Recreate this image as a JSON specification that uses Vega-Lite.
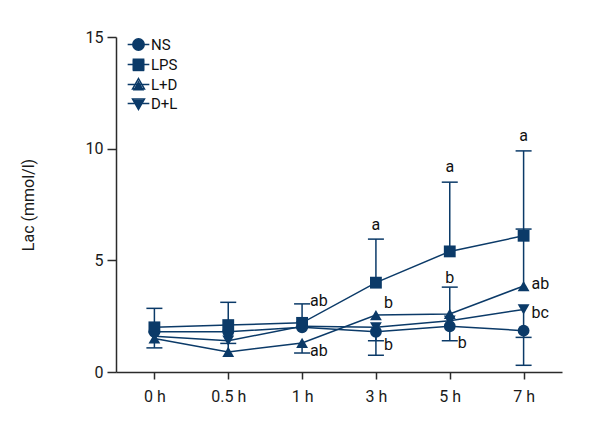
{
  "$schema": "https://vega.github.io/schema/vega-lite/v6.json",
  "width": 446,
  "height": 335,
  "autosize": {"type": "none"},
  "padding": {"left": 116, "top": 37, "right": 38, "bottom": 68},
  "background": "white",
  "config": {
    "view": {"stroke": null},
    "font": "Roboto",
    "axis": {
      "domainColor": "#2b2b2b",
      "tickColor": "#2b2b2b",
      "domainWidth": 1.5,
      "tickWidth": 1.5,
      "labelColor": "#1a1a1a",
      "titleColor": "#1a1a1a",
      "labelFontSize": 16,
      "titleFontSize": 16,
      "titleFontWeight": "normal",
      "grid": false,
      "labelFont": "Roboto",
      "titleFont": "Roboto"
    },
    "legend": {"labelFont": "Roboto"}
  },
  "datasets": {
    "means": [
      {"series": "NS", "time": "0 h", "value": 1.8},
      {"series": "NS", "time": "0.5 h", "value": 1.8},
      {"series": "NS", "time": "1 h", "value": 2.0},
      {"series": "NS", "time": "3 h", "value": 1.8},
      {"series": "NS", "time": "5 h", "value": 2.05},
      {"series": "NS", "time": "7 h", "value": 1.85},
      {"series": "LPS", "time": "0 h", "value": 2.0},
      {"series": "LPS", "time": "0.5 h", "value": 2.1},
      {"series": "LPS", "time": "1 h", "value": 2.2},
      {"series": "LPS", "time": "3 h", "value": 4.0},
      {"series": "LPS", "time": "5 h", "value": 5.4},
      {"series": "LPS", "time": "7 h", "value": 6.1},
      {"series": "L+D", "time": "0 h", "value": 1.5},
      {"series": "L+D", "time": "0.5 h", "value": 0.9},
      {"series": "L+D", "time": "1 h", "value": 1.3},
      {"series": "L+D", "time": "3 h", "value": 2.55},
      {"series": "L+D", "time": "5 h", "value": 2.6},
      {"series": "L+D", "time": "7 h", "value": 3.85},
      {"series": "D+L", "time": "0 h", "value": 1.6},
      {"series": "D+L", "time": "0.5 h", "value": 1.4},
      {"series": "D+L", "time": "1 h", "value": 2.05},
      {"series": "D+L", "time": "3 h", "value": 2.0},
      {"series": "D+L", "time": "5 h", "value": 2.3},
      {"series": "D+L", "time": "7 h", "value": 2.8}
    ],
    "err": [
      {"series": "LPS", "time": "0 h", "value": 2.0, "bound": 2.85},
      {"series": "L+D", "time": "0 h", "value": 1.5, "bound": 1.08},
      {"series": "LPS", "time": "0.5 h", "value": 2.1, "bound": 3.12},
      {"series": "L+D", "time": "0.5 h", "value": 0.9, "bound": 1.28},
      {"series": "LPS", "time": "1 h", "value": 2.2, "bound": 3.05},
      {"series": "L+D", "time": "1 h", "value": 1.3, "bound": 0.85},
      {"series": "LPS", "time": "3 h", "value": 4.0, "bound": 5.95},
      {"series": "D+L", "time": "3 h", "value": 2.0, "bound": 1.4},
      {"series": "NS", "time": "3 h", "value": 1.8, "bound": 0.75},
      {"series": "LPS", "time": "5 h", "value": 5.4, "bound": 8.5},
      {"series": "L+D", "time": "5 h", "value": 2.6, "bound": 3.8},
      {"series": "NS", "time": "5 h", "value": 2.05, "bound": 1.4},
      {"series": "LPS", "time": "7 h", "value": 6.1, "bound": 9.9},
      {"series": "L+D", "time": "7 h", "value": 3.85, "bound": 6.4},
      {"series": "D+L", "time": "7 h", "value": 2.8, "bound": 1.55},
      {"series": "NS", "time": "7 h", "value": 1.85, "bound": 0.3}
    ],
    "above": [
      {"time": "3 h", "value": 6.56, "label": "a"},
      {"time": "5 h", "value": 9.16, "label": "a"},
      {"time": "5 h", "value": 4.19, "label": "b"},
      {"time": "7 h", "value": 10.55, "label": "a"}
    ],
    "right": [
      {"time": "1 h", "value": 3.16, "label": "ab"},
      {"time": "1 h", "value": 0.92, "label": "ab"},
      {"time": "3 h", "value": 3.11, "label": "b"},
      {"time": "3 h", "value": 1.23, "label": "b"},
      {"time": "5 h", "value": 1.3, "label": "b"},
      {"time": "7 h", "value": 3.92, "label": "ab"},
      {"time": "7 h", "value": 2.66, "label": "bc"}
    ]
  },
  "encoding": {
    "x": {
      "field": "time",
      "type": "ordinal",
      "scale": {"type": "point", "domain": ["0 h", "0.5 h", "1 h", "3 h", "5 h", "7 h"], "padding": 0.52},
      "axis": {"title": null, "labelAngle": 0, "tickSize": 7, "labelPadding": 9}
    },
    "y": {
      "field": "value",
      "type": "quantitative",
      "scale": {"domain": [0, 15], "nice": false},
      "axis": {"title": "Lac (mmol/l)", "values": [0, 5, 10, 15], "tickSize": 9, "labelPadding": 4, "titlePadding": 49}
    }
  },
  "layer": [
    {
      "data": {"name": "err"},
      "mark": {"type": "rule", "color": "#0b3a68", "strokeWidth": 1.5},
      "encoding": {"y2": {"field": "bound"}}
    },
    {
      "data": {"name": "err"},
      "mark": {"type": "tick", "orient": "horizontal", "color": "#0b3a68", "size": 16, "thickness": 1.5, "opacity": 1},
      "encoding": {"y": {"field": "bound", "type": "quantitative"}}
    },
    {
      "data": {"name": "means"},
      "mark": {"type": "line", "color": "#0b3a68", "strokeWidth": 1.5},
      "encoding": {"detail": {"field": "series"}}
    },
    {
      "data": {"name": "means"},
      "mark": {"type": "point", "filled": true, "opacity": 1, "color": "#0b3a68", "size": 140},
      "encoding": {
        "shape": {
          "field": "series",
          "type": "nominal",
          "scale": {"domain": ["NS", "LPS", "L+D", "D+L"], "range": ["circle", "square", "triangle-up", "triangle-down"]},
          "legend": {
            "orient": "none",
            "legendX": 15,
            "legendY": 0,
            "title": null,
            "padding": 0,
            "symbolSize": 130,
            "labelFontSize": 15,
            "labelFont": "Roboto",
            "labelExpr": "''",
            "labelOffset": 5,
            "rowPadding": 2
          }
        }
      }
    },
    {
      "data": {"name": "above"},
      "mark": {"type": "text", "color": "#111111", "font": "Roboto", "fontSize": 16, "baseline": "middle", "align": "center"},
      "encoding": {"text": {"field": "label"}}
    },
    {
      "data": {"name": "right"},
      "mark": {"type": "text", "color": "#111111", "font": "Roboto", "fontSize": 16, "baseline": "middle", "align": "left", "dx": 8},
      "encoding": {"text": {"field": "label"}}
    },
    {
      "data": {"name": "means"},
      "transform": [{"filter": "datum.value > 99"}],
      "mark": {"type": "point", "filled": false, "opacity": 1, "color": "#0b3a68", "strokeWidth": 1.5},
      "encoding": {
        "shape": {
          "field": "series",
          "type": "nominal",
          "scale": {
            "domain": ["NS", "LPS", "L+D", "D+L"],
            "range": [
              "M-1.9,0H1.9M1,0A1,1,0,1,1,-1,0A1,1,0,1,1,1,0Z",
              "M-1.9,0H1.9M-0.9,-0.9H0.9V0.9H-0.9Z",
              "M-1.9,0H1.9M0,-1.05L1.05,0.8L-1.05,0.8Z",
              "M-1.9,0H1.9M0,1.05L1.05,-0.8L-1.05,-0.8Z"
            ]
          },
          "legend": {
            "orient": "none",
            "legendX": 15,
            "legendY": 0,
            "title": null,
            "padding": 0,
            "symbolSize": 130,
            "symbolStrokeColor": "#0b3a68",
            "symbolStrokeWidth": 1.5,
            "labelFontSize": 15,
            "labelFont": "Roboto",
            "labelColor": "#111111",
            "labelOffset": 5,
            "rowPadding": 2
          }
        }
      }
    }
  ],
  "resolve": {"scale": {"shape": "independent"}}
}
